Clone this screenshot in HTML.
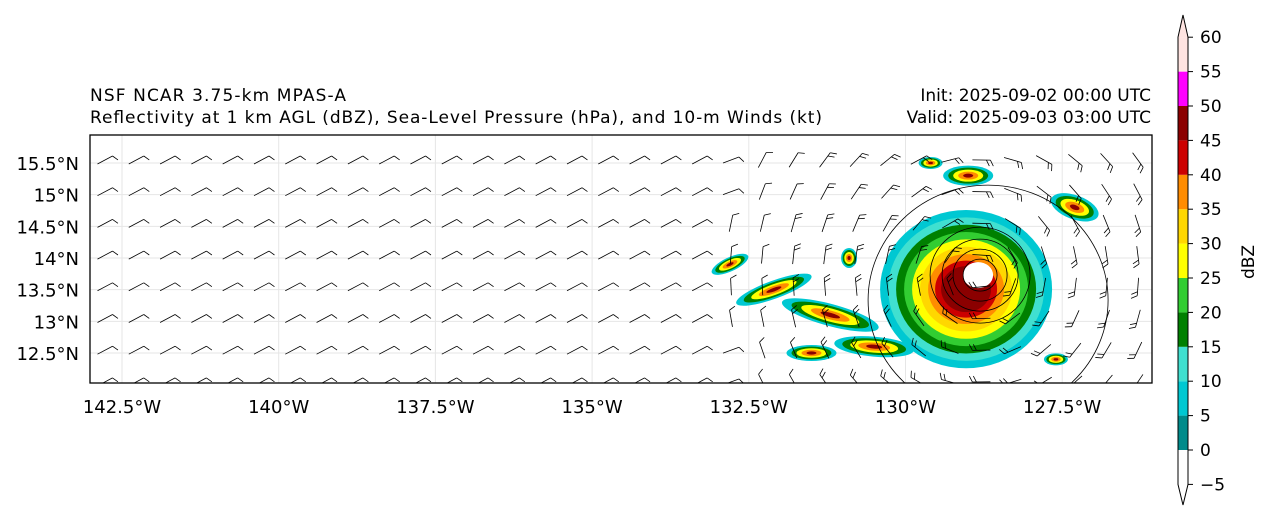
<!DOCTYPE html>
<html><head><meta charset="utf-8"><style>
body{margin:0;background:#fff;font-family:"Liberation Sans","DejaVu Sans",sans-serif;}
svg text{font-family:"DejaVu Sans","Liberation Sans",sans-serif;}
</style></head><body>
<svg id="c" width="1272" height="520" viewBox="0 0 1272 520" xmlns="http://www.w3.org/2000/svg">
<text x="90" y="101" font-size="17" textLength="256">NSF NCAR 3.75-km MPAS-A</text>
<text x="90" y="123" font-size="17" textLength="732">Reflectivity at 1 km AGL (dBZ), Sea-Level Pressure (hPa), and 10-m Winds (kt)</text>
<text x="1151" y="101" font-size="17" text-anchor="end">Init: 2025-09-02 00:00 UTC</text>
<text x="1151" y="123" font-size="17" text-anchor="end">Valid: 2025-09-03 03:00 UTC</text>
<defs><clipPath id="mc"><rect x="90" y="135" width="1062" height="248"/></clipPath></defs>
<g id="map" clip-path="url(#mc)"></g>
<rect x="90" y="135" width="1062" height="248" fill="none" stroke="#000" stroke-width="1.3"/>
<g id="axes"></g>
<g id="cbar"></g>
<text transform="translate(1254,262) rotate(-90)" font-size="17" text-anchor="middle">dBZ</text>
</svg>
<script>
const lonTicks=[-142.5,-140,-137.5,-135,-132.5,-130,-127.5];
const latTicks=[12.5,13,13.5,14,14.5,15,15.5];
const levels=[-5,0,5,10,15,20,25,30,35,40,45,50,55,60];
const levelColors=["#ffffff","#008b8b","#00c8d2","#40e0d0","#008000","#32cd32","#ffff00","#ffd700","#ff8c00","#cc0000","#8b0000","#ff00ff","#ffe4e1"];
const stormRings=[5,10,15,20,25,30,35,40,45];
const isobars=[1010,1000,990,980,969];
const NS="http://www.w3.org/2000/svg";
const svg=document.getElementById('c'),map=document.getElementById('map'),axes=document.getElementById('axes'),cb=document.getElementById('cbar');
function X(lon){return 122+(lon+142.5)/2.5*156.7;}
function Y(lat){return 353-(lat-12.5)/0.5*31.67;}
function CY(v){return 450-(v)/5*34.4;}
function col(v){for(let i=levels.length-2;i>=0;i--)if(v>=levels[i])return levelColors[i];return "#fff";}
function mk(t,a,p){const e=document.createElementNS(NS,t);for(const k in a)e.setAttribute(k,a[k]);(p||svg).appendChild(e);return e;}
lonTicks.forEach(l=>{const e=mk('line',{x1:X(l),x2:X(l),y1:135,y2:383,stroke:'#e6e6e6','stroke-width':1},map);


const t=mk('text',{x:X(l),y:413,'font-size':18,'text-anchor':'middle'},axes);t.textContent=Math.abs(l)+'°W';

});
latTicks.forEach(l=>{const e=mk('line',{x1:90,x2:1152,y1:Y(l),y2:Y(l),stroke:'#e6e6e6','stroke-width':1},map);


const t=mk('text',{x:79,y:Y(l)+7,'font-size':18,'text-anchor':'end'},axes);t.textContent=l+'°N';

});
const cx=X(-128.81),cy=Y(13.73);
const ringR=[86,78,70,62,54,46,38,31,25];
const rb=mk('g',{},map);
stormRings.forEach((v,i)=>{const e=mk('ellipse',{cx:cx-14,cy:cy+14,rx:ringR[i],ry:ringR[i]*0.92,fill:col(v)},rb);

});
mk('ellipse',{cx:cx-2,cy:cy,rx:15,ry:13,fill:'#fff'},rb);
const band=[[-131.2,13.1,50,11,15],[-132.1,13.5,40,9,-20],[-132.8,13.9,20,7,-25],[-130.5,12.6,40,10,5],[-131.5,12.5,25,8,0],[-127.6,12.4,12,6,0],[-129.0,15.3,25,10,0],[-127.3,14.8,25,12,20],[-129.6,15.5,12,6,0],[-130.9,14.0,8,10,0]];
band.forEach(b=>{[5,15,25,35,45].forEach((v,k)=>{const s=1-k*0.2;const e=mk('ellipse',{cx:X(b[0]),cy:Y(b[1]),rx:b[2]*s,ry:b[3]*s,fill:col(v),transform:`rotate(${b[4]} ${X(b[0])} ${Y(b[1])})`},rb);

});});
const isoR=[[120,115],[50,48],[38,36],[27,26],[17,16]];
isobars.forEach((p,i)=>{const e=mk('ellipse',{cx:cx+(i==0?8:0),cy:cy+(i==0?25:0),rx:isoR[i][0],ry:isoR[i][1],fill:'none',stroke:'#000','stroke-width':0.8},map);

});
for(let r=0;r<8;r++)for(let c=0;c<34;c++){const x=105+c*31.3,y=160+r*31.7;
let dx=x-cx,dy=y-cy,d=Math.hypot(dx,dy);let ang;
if(d<260){ang=Math.atan2(dy,dx)*180/Math.PI+90;}else{ang=-28+(x>700?(x-700)/4:0);}
const L=d<200?18:17;const g=mk('g',{transform:`translate(${x},${y}) rotate(${ang})`,stroke:'#000','stroke-width':0.8,fill:'none'},map);


mk('line',{x1:-L/2,y1:0,x2:L/2,y2:0},g);mk('line',{x1:L/2,y1:0,x2:L/2+3,y2:6},g);if(d<200)mk('line',{x1:L/2-4,y1:0,x2:L/2-1,y2:6},g);}
for(let i=1;i<levels.length-1;i++){const e=mk('rect',{x:1178,y:CY(levels[i+1]),width:10,height:CY(levels[i])-CY(levels[i+1]),fill:levelColors[i]},cb);

}
mk('polygon',{points:`1178,${CY(60)} 1183,15 1188,${CY(60)}`,fill:levelColors[12]},cb);
mk('path',{d:`M1178,${CY(-5)} L1178,${CY(60)} L1183,15 L1188,${CY(60)} L1188,${CY(-5)} L1183,505 Z`,fill:'none',stroke:'#000','stroke-width':1},cb);
levels.forEach(v=>{mk('line',{x1:1188,x2:1193,y1:CY(v),y2:CY(v),stroke:'#000'},cb);const t=mk('text',{x:1200,y:CY(v)+6,'font-size':17},cb);t.textContent=v<0?'\u2212'+Math.abs(v):v;

});
</script>
</body></html>
